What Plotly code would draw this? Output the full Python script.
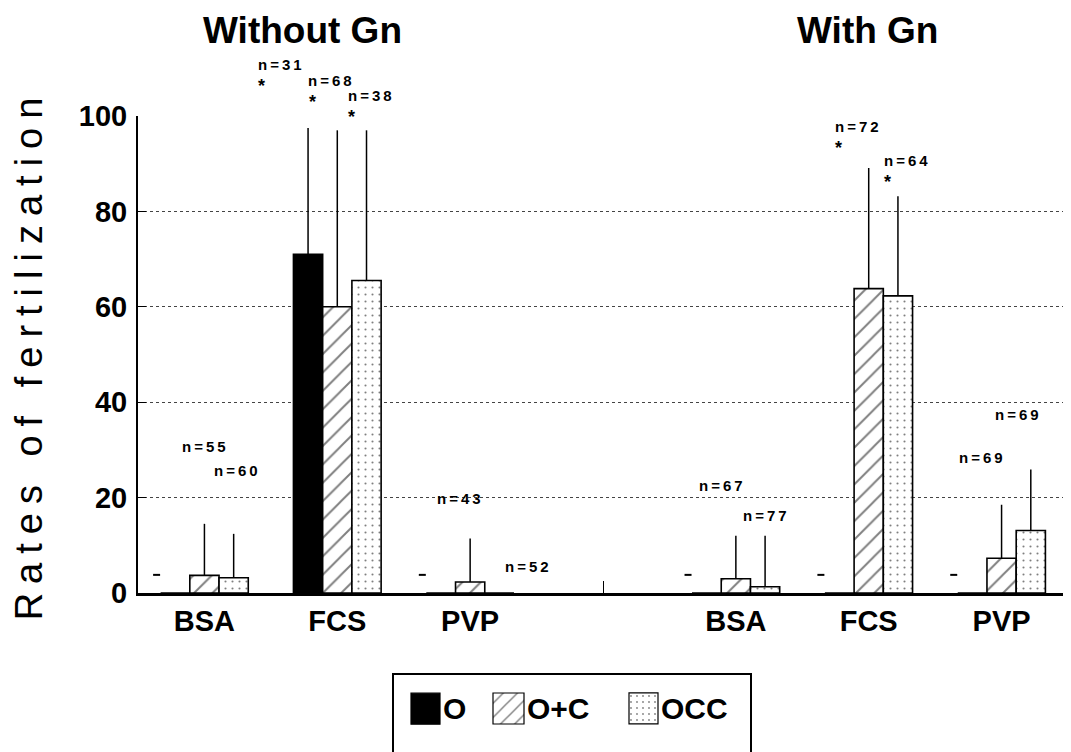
import plotly.graph_objects as go

# ---------------- data ----------------
groups = ["Without Gn", "With Gn"]
media = ["BSA", "FCS", "PVP"]
# slot order on the x axis: 3 media without Gn, an empty slot, 3 media with Gn
tick_labels = ["BSA", "FCS", "PVP", "", "BSA", "FCS", "PVP"]

series_names = ["O", "O+C", "OCC"]
# mean rates of fertilization (%), None = empty slot
o_vals   = [0.0, 71.0, 0.0, None, 0.0, 0.0, 0.0]
oc_vals  = [3.7, 60.0, 2.3, None, 3.0, 63.8, 7.3]
occ_vals = [3.2, 65.5, 0.0, None, 1.3, 62.3, 13.1]
# upper standard deviation (added on top of the mean)
o_err   = [0.0, 26.5, 0.0, None, 0.0, 0.0, 0.0]
oc_err  = [10.8, 37.0, 9.1, None, 9.0, 25.3, 11.2]
occ_err = [9.2, 31.5, 0.0, None, 10.7, 20.9, 12.8]

# groups where the O value (0 %) is marked by a short dash
o_zero_mark = [True, False, True, None, True, True, True]

# sample sizes printed above bars and significance stars
n_text = ["n=31", "n=68", "n=38", "n=55", "n=60", "n=43", "n=52",
          "n=67", "n=77", "n=72", "n=64", "n=69", "n=69"]
n_star = [True, True, True, False, False, False, False,
          False, False, True, True, False, False]

# ---------------- layout constants ----------------
FONT = "Liberation Sans, Arial, Helvetica, sans-serif"
W, H = 1063, 744                      # page body has an 8px margin
PLOT_X = (130 / W, 1060 / W)
PLOT_Y = ((H - 585) / H, (H - 108) / H)
BARGAP = 0.34
BAR_W = (1 - BARGAP) / 3
slots = list(range(len(tick_labels)))

# label placement (x in slot units, y in axis units)
n_pos_x = [0.58, 0.96, 1.26, 0.01, 0.25, 1.93, 2.44,
           3.90, 4.23, 4.92, 5.29, 5.86, 6.13]
n_pos_y = [110.7, 107.4, 104.2, 30.7, 25.7, 19.8, 5.5,
           22.5, 16.2, 97.7, 90.7, 28.4, 37.5]
star_dx, star_dy = -0.15, -4.5
dash_dx, dash_y = -0.36, 3.8
title_x = [0.74, 4.99]
title_y = 117.9

# legend box (drawn as a small keyed panel) in its own pixel-like units
LEG_X = (386 / W, 742 / W)
LEG_Y = (0, 77 / H)
leg_key_start = [17, 99, 235]
leg_key_len = [29, 31, 29]
leg_key_y = 43.5
leg_key_h = 31

fig = go.Figure()

patterns = [
    dict(shape=""),
    dict(shape="/", size=13, solidity=0.15, fgcolor="black", bgcolor="white", fillmode="overlay"),
    dict(shape=".", size=7, solidity=0.07, fgcolor="black", bgcolor="white", fillmode="overlay"),
]
leg_patterns = [
    dict(shape=""),
    dict(shape="/", size=10, solidity=0.14, fgcolor="black", bgcolor="white", fillmode="overlay"),
    dict(shape=".", size=6, solidity=0.07, fgcolor="black", bgcolor="white", fillmode="overlay"),
]
colors = ["black", "white", "white"]
vals = [o_vals, oc_vals, occ_vals]
errs = [o_err, oc_err, occ_err]

for name, v, e, pat, col in zip(series_names, vals, errs, patterns, colors):
    fig.add_trace(go.Bar(
        x=slots, y=v, name=name, showlegend=False,
        marker=dict(color=col, line=dict(color="black", width=1.6), pattern=pat),
        error_y=dict(type="data", symmetric=False, array=e,
                     arrayminus=[0 if x is not None else None for x in e],
                     width=0, thickness=1.5, color="black"),
        cliponaxis=False,
    ))

# dashes marking 0 % for O
dash_x = [s + dash_dx for s, m in zip(slots, o_zero_mark) if m]
fig.add_trace(go.Scatter(
    x=dash_x, y=[dash_y] * len(dash_x), mode="markers", showlegend=False,
    marker=dict(symbol="line-ew", size=5, line=dict(color="black", width=2)),
    hoverinfo="skip",
))

# invisible trace for the separator tick between the two halves
fig.add_trace(go.Scatter(x=[3], y=[None], xaxis="x2", showlegend=False, hoverinfo="skip"))

# legend keys
for name, st, ln, pat, col in zip(series_names, leg_key_start, leg_key_len, leg_patterns, colors):
    fig.add_trace(go.Bar(
        y=[leg_key_y], x=[ln], base=[st], width=[leg_key_h], orientation="h",
        xaxis="x3", yaxis="y3", showlegend=False, hoverinfo="skip",
        marker=dict(color=col, line=dict(color="black", width=1.2), pattern=pat),
        text=[name], textposition="outside", constraintext="none", cliponaxis=False,
        outsidetextfont=dict(family=FONT, size=30, color="black", weight="bold"),
    ))

annotations = []
for t, s, x, y in zip(n_text, n_star, n_pos_x, n_pos_y):
    annotations.append(dict(
        x=x, y=y / 100, xref="x", yref="y domain", showarrow=False,
        xanchor="center", yanchor="middle",
        text='<span style="letter-spacing:3px">' + t + '</span>',
        font=dict(family=FONT, size=15, color="black", weight="bold")))
    if s:
        annotations.append(dict(x=x + star_dx, y=(y + star_dy) / 100, xref="x", yref="y domain",
                                xanchor="center", yanchor="middle",
                                text="*", showarrow=False,
                                font=dict(family=FONT, size=18, color="black", weight="bold")))
for g, gx in zip(groups, title_x):
    annotations.append(dict(x=gx, y=title_y / 100, xref="x", yref="y domain", text=g,
                            xanchor="center", yanchor="middle", showarrow=False, borderpad=0,
                            font=dict(family=FONT, size=37, color="black", weight="bold")))

fig.update_layout(
    width=W, height=H,
    margin=dict(l=0, r=0, t=0, b=0, pad=0, autoexpand=False),
    paper_bgcolor="white", plot_bgcolor="white",
    barmode="group", bargap=BARGAP, bargroupgap=0,
    font=dict(family=FONT, color="black"),
    showlegend=False,
    annotations=annotations,
    xaxis=dict(domain=PLOT_X, anchor="y", range=[-0.5, 6.5], tickmode="array",
               tickvals=[0, 1, 2, 4, 5, 6], automargin=False,
               ticktext=[t for t in tick_labels if t], ticks="", showline=True,
               linecolor="black", linewidth=2.5, showgrid=False, zeroline=False,
               tickfont=dict(family=FONT, size=29, weight="bold"), ticklabelstandoff=0),
    xaxis2=dict(domain=PLOT_X, range=[-0.5, 6.5], overlaying="x", anchor="y", side="bottom",
                tickmode="array", tickvals=[3], ticks="inside", ticklen=12, tickwidth=1.2,
                tickcolor="black", showticklabels=False, showgrid=False, zeroline=False,
                showline=False, automargin=False),
    yaxis=dict(domain=PLOT_Y, anchor="x", range=[0, 100], tickmode="array",
               tickvals=[0, 20, 40, 60, 80, 100], automargin=False,
               ticks="inside", ticklen=8, tickcolor="black", showline=True,
               linecolor="black", linewidth=2, showgrid=True, gridcolor="#444",
               griddash="dot", gridwidth=1, zeroline=False,
               tickfont=dict(family=FONT, size=29, weight="bold"), ticklabelstandoff=3,
               title=dict(text='<span style="letter-spacing:9px">Rates of fertilization</span>',
                          standoff=26, font=dict(family=FONT, size=38))),
    xaxis3=dict(domain=LEG_X, anchor="y3", range=[0, LEG_X[1] * W - LEG_X[0] * W],
                side="top", showline=True, linecolor="black", linewidth=1.5, mirror=False,
                showticklabels=False, ticks="", showgrid=False, zeroline=False,
                fixedrange=True, automargin=False),
    yaxis3=dict(domain=LEG_Y, anchor="x3", range=[0, LEG_Y[1] * H], showline=True,
                linecolor="black", linewidth=1.5, mirror=True, showticklabels=False,
                ticks="", showgrid=False, zeroline=False, fixedrange=True, automargin=False),
)

fig.write_html("out.html")
